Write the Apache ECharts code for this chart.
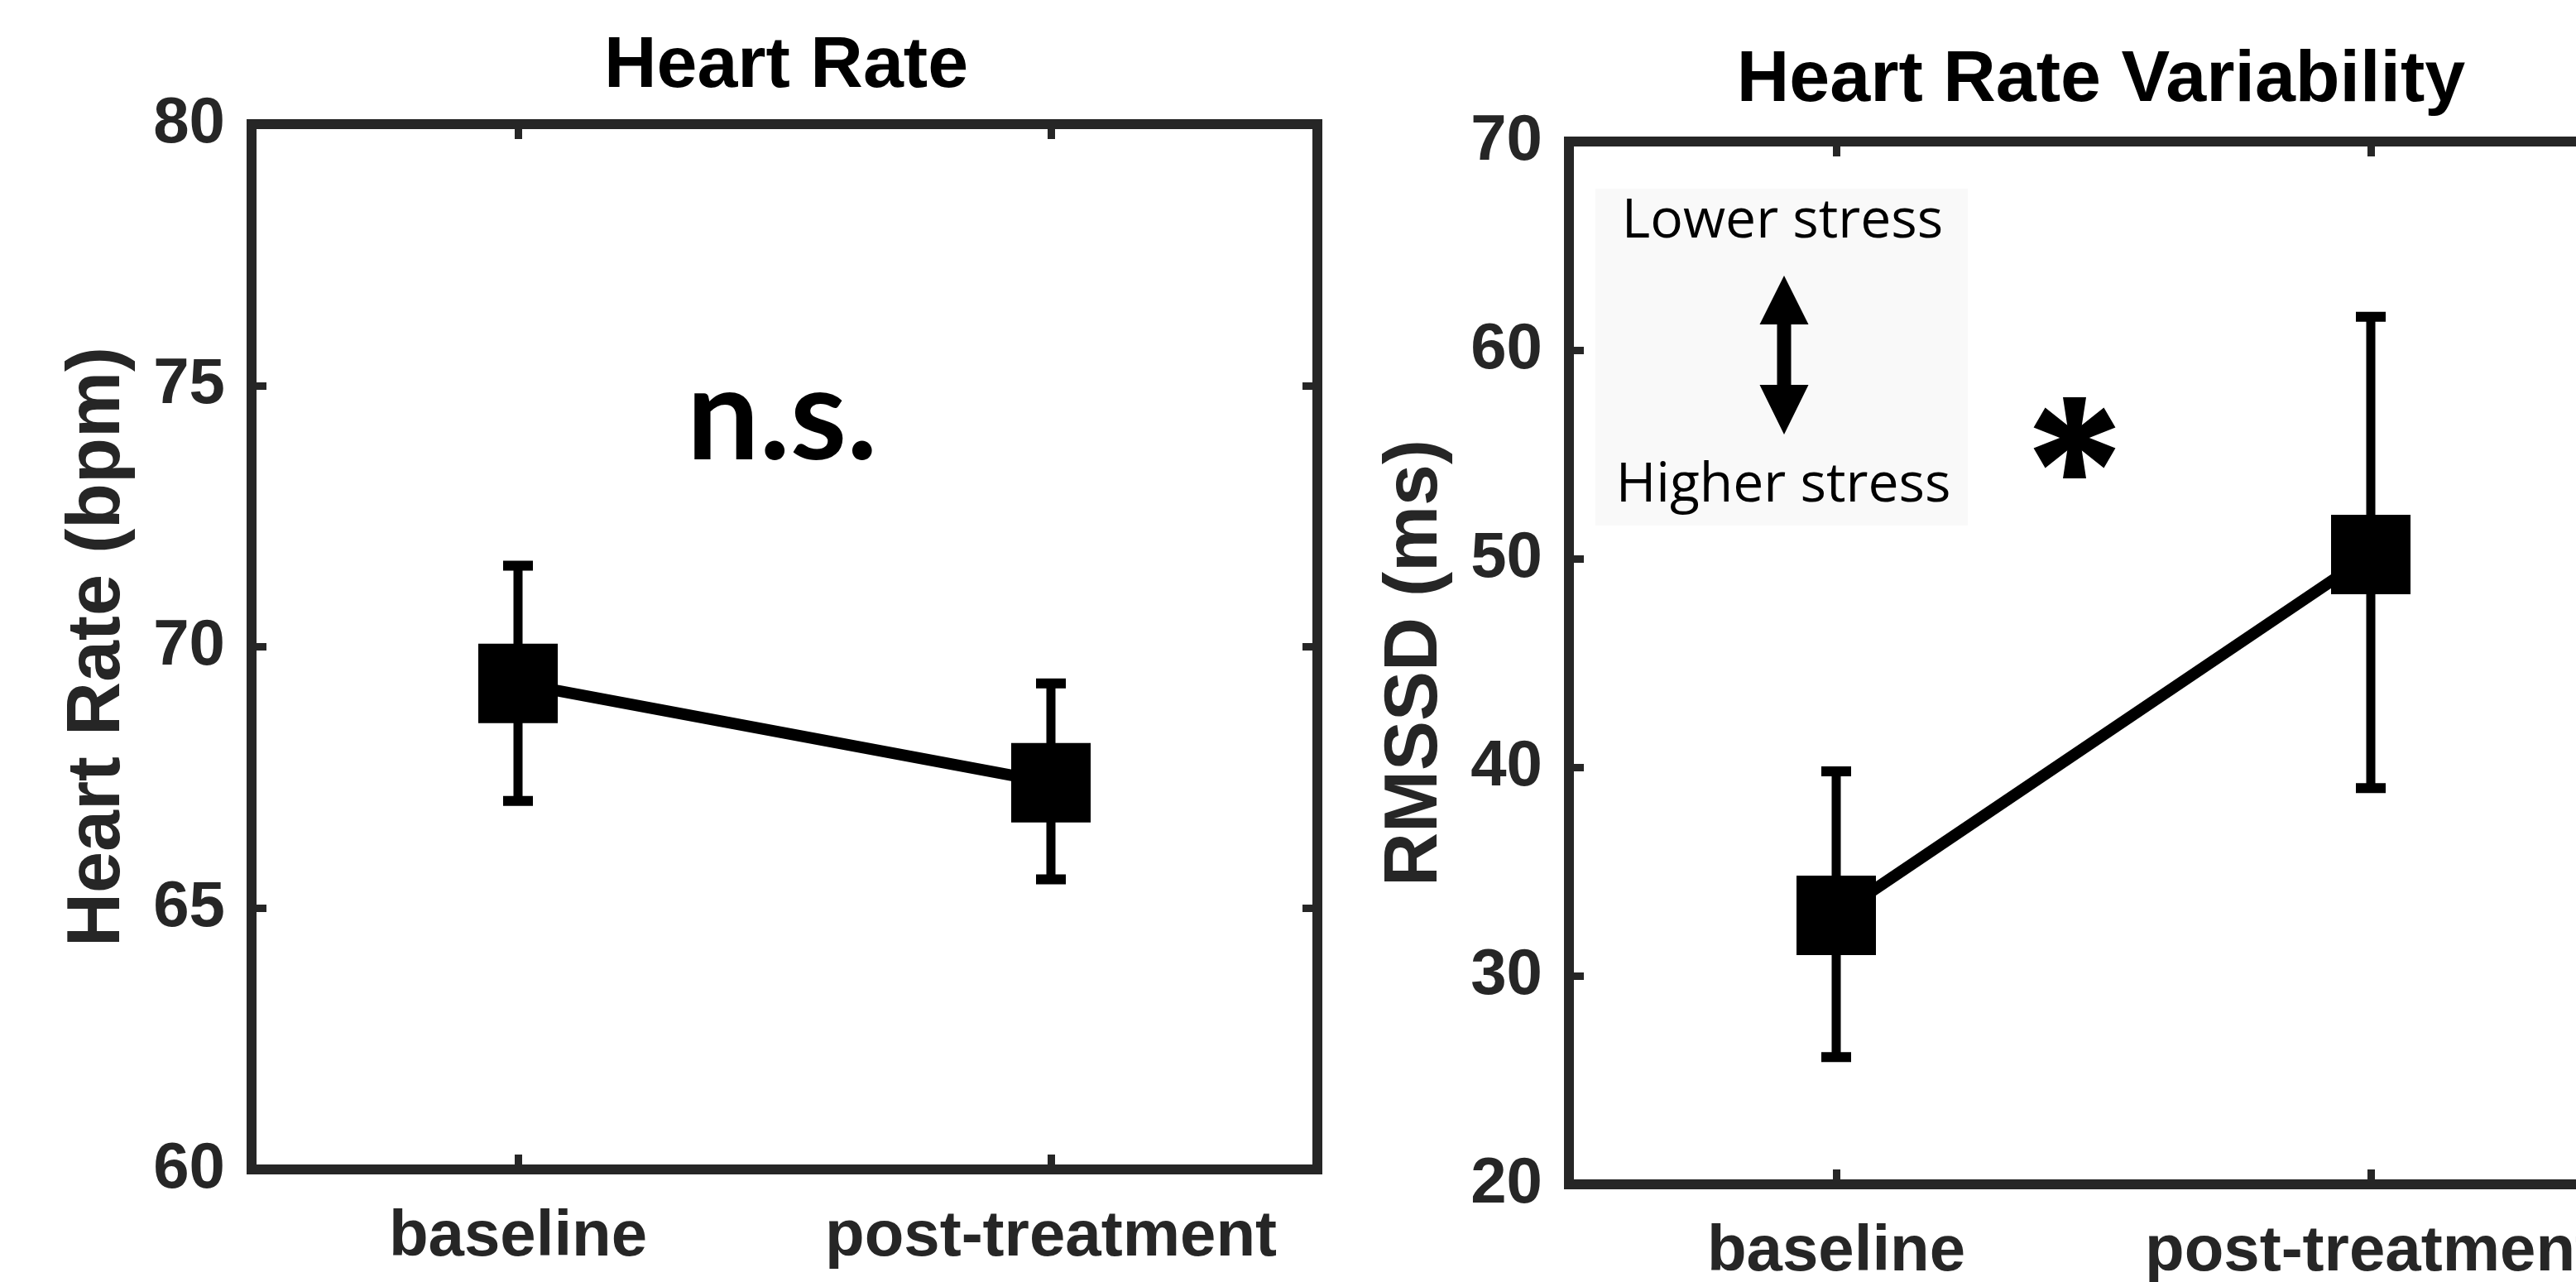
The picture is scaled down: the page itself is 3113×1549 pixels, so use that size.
<!DOCTYPE html>
<html>
<head>
<meta charset="utf-8">
<script src="https://cdn.jsdelivr.net/npm/echarts@6/dist/echarts.min.js"></script>
<style>
html,body{margin:0;padding:0;background:#fff;}
#chart{width:3113px;height:1549px;}
</style>
</head>
<body>
<div id="chart"></div>
<script>
// ---- data ----
const categories = ['baseline', 'post-treatment'];
const hrMean = [69.3, 67.4];
const hrLow = [67.05, 65.55];
const hrHigh = [71.55, 69.3];
const hrvMean = [32.9, 50.2];
const hrvLow = [26.1, 39.0];
const hrvHigh = [39.8, 61.6];
const hrAxis = { min: 60, max: 80, interval: 5 };
const hrvAxis = { min: 20, max: 70, interval: 10 };
const titles = ['Heart Rate', 'Heart Rate Variability'];
const yNames = ['Heart Rate (bpm)', 'RMSSD (ms)'];

// ---- style ----
const AX = '#262626';
const FONT = '"Liberation Sans", Arial, Helvetica, sans-serif';

function axisLine() {
  return { show: true, lineStyle: { color: AX, width: 12, cap: 'square' } };
}
function tick() {
  return { show: true, inside: true, length: 18, lineStyle: { color: AX, width: 9 } };
}

function xAxes(gi) {
  return [
    { type: 'category', gridIndex: gi, data: categories, position: 'bottom',
      axisLine: axisLine(), axisTick: Object.assign(tick(), { alignWithLabel: true }),
      axisLabel: { color: AX, fontSize: 78, fontWeight: 'bold', fontFamily: FONT, margin: 43, interval: 0 },
      splitLine: { show: false } },
    { type: 'category', gridIndex: gi, data: categories, position: 'top',
      axisLine: axisLine(), axisTick: Object.assign(tick(), { alignWithLabel: true }),
      axisLabel: { show: false }, splitLine: { show: false } }
  ];
}
function yAxes(gi, rng, name) {
  return [
    { type: 'value', gridIndex: gi, position: 'left', min: rng.min, max: rng.max, interval: rng.interval,
      name: name, nameLocation: 'middle', nameGap: 140,
      nameTextStyle: { color: AX, fontSize: 90, fontWeight: 'bold', fontFamily: FONT },
      axisLine: axisLine(), axisTick: tick(),
      axisLabel: { color: AX, fontSize: 78, fontWeight: 'bold', fontFamily: FONT, margin: 32 },
      splitLine: { show: false } },
    { type: 'value', gridIndex: gi, position: 'right', min: rng.min, max: rng.max, interval: rng.interval,
      axisLine: axisLine(), axisTick: tick(), axisLabel: { show: false }, splitLine: { show: false } }
  ];
}

function errRender(params, api) {
  const x = api.value(0);
  const lo = api.coord([x, api.value(1)]);
  const hi = api.coord([x, api.value(2)]);
  const cw = 18;
  const st = { stroke: '#000', lineWidth: 11 };
  const cs = { stroke: '#000', lineWidth: 12 };
  return { type: 'group', children: [
    { type: 'line', shape: { x1: lo[0], y1: lo[1], x2: hi[0], y2: hi[1] }, style: st },
    { type: 'line', shape: { x1: hi[0] - cw, y1: hi[1], x2: hi[0] + cw, y2: hi[1] }, style: cs },
    { type: 'line', shape: { x1: lo[0] - cw, y1: lo[1], x2: lo[0] + cw, y2: lo[1] }, style: cs }
  ]};
}

function errData(lo, hi) { return categories.map((c, i) => [i, lo[i], hi[i]]); }

// asterisk polygons (annotation)
function asteriskParts(cx, cy) {
  const L = 49, w1 = 28, w0 = 13, parts = [];
  for (let k = 0; k < 3; k++) {
    const a = Math.PI / 2 + k * Math.PI / 3;
    const ux = Math.cos(a), uy = Math.sin(a), vx = -uy, vy = ux;
    const loc = [[-L, -w1 / 2], [0, -w0 / 2], [L, -w1 / 2], [L, w1 / 2], [0, w0 / 2], [-L, w1 / 2]];
    parts.push({ type: 'polygon', z: 100,
      shape: { points: loc.map(p => [cx + p[0] * ux + p[1] * vx, cy + p[0] * uy + p[1] * vy]) },
      style: { fill: '#000' } });
  }
  return parts;
}

const ax = 2156;
const arrowPts = [[ax, 333], [ax + 29.5, 392], [ax + 8.5, 392], [ax + 8.5, 465], [ax + 29.5, 465],
  [ax, 525], [ax - 29.5, 465], [ax - 8.5, 465], [ax - 8.5, 392], [ax - 29.5, 392]];

const chart = echarts.init(document.getElementById('chart'), null, { renderer: 'canvas' });
chart.setOption({
  animation: false,
  backgroundColor: '#fff',
  title: [
    { text: titles[0], left: 950, top: 37, textAlign: 'center', padding: 0,
      textStyle: { color: '#000', fontSize: 88, fontWeight: 'bold', fontFamily: FONT } },
    { text: titles[1], left: 2539, top: 54, textAlign: 'center', padding: 0,
      textStyle: { color: '#000', fontSize: 88, fontWeight: 'bold', fontFamily: FONT } }
  ],
  grid: [
    { left: 304, top: 150, width: 1288, height: 1263, containLabel: false, outerBoundsMode: 'none' },
    { left: 1896, top: 171, width: 1292, height: 1260, containLabel: false, outerBoundsMode: 'none' }
  ],
  xAxis: xAxes(0).concat(xAxes(1)),
  yAxis: yAxes(0, hrAxis, yNames[0]).concat(yAxes(1, hrvAxis, yNames[1])),
  series: [
    { type: 'custom', xAxisIndex: 0, yAxisIndex: 0, renderItem: errRender, data: errData(hrLow, hrHigh), z: 2 },
    { type: 'line', xAxisIndex: 0, yAxisIndex: 0, data: hrMean, symbol: 'rect', symbolSize: 96,
      itemStyle: { color: '#000' }, lineStyle: { color: '#000', width: 14 }, z: 3 },
    { type: 'custom', xAxisIndex: 2, yAxisIndex: 2, renderItem: errRender, data: errData(hrvLow, hrvHigh), z: 2 },
    { type: 'line', xAxisIndex: 2, yAxisIndex: 2, data: hrvMean, symbol: 'rect', symbolSize: 96,
      itemStyle: { color: '#000' }, lineStyle: { color: '#000', width: 14 }, z: 3 }
  ],
  graphic: [
    { type: 'text', x: 945, y: 505, z: 100,
      style: { text: 'n.s.', fill: '#000', font: 'bold 156px Lato, "Open Sans", sans-serif', textAlign: 'center', textVerticalAlign: 'middle' } },
    { type: 'rect', z: 50, shape: { x: 1928, y: 228, width: 450, height: 407 }, style: { fill: '#f9f9f9' } },
    { type: 'text', x: 2154, y: 268, z: 100,
      style: { text: 'Lower stress', fill: '#000', font: '66px "Open Sans", sans-serif', textAlign: 'center', textVerticalAlign: 'middle' } },
    { type: 'text', x: 2155, y: 587, z: 100,
      style: { text: 'Higher stress', fill: '#000', font: '66px "Open Sans", sans-serif', textAlign: 'center', textVerticalAlign: 'middle' } },
    { type: 'polygon', z: 100, shape: { points: arrowPts }, style: { fill: '#000' } }
  ].concat(asteriskParts(2507, 529))
});
</script>
</body>
</html>
